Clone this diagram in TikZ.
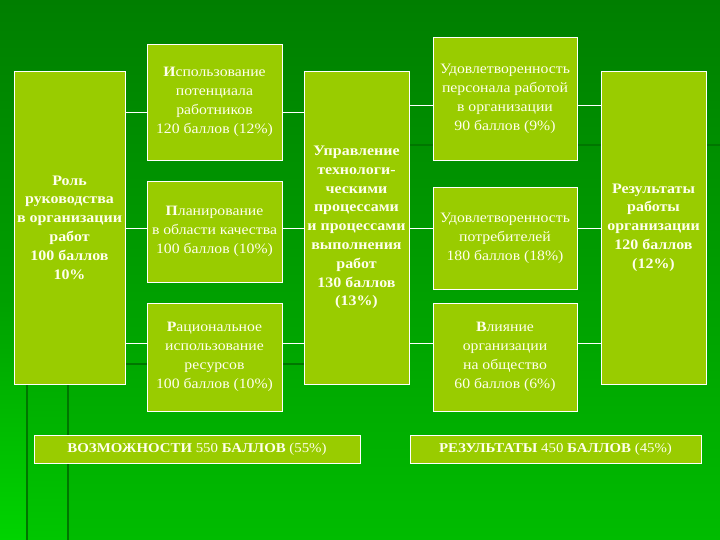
\documentclass[tikz,border=0pt]{standalone}
\usepackage{fontspec}
\setmainfont{Liberation Serif}[FakeStretch=1.1]

\definecolor{slidetop}{RGB}{0,126,0}
\definecolor{slidemid}{RGB}{0,160,0}
\definecolor{slidebot}{RGB}{0,188,0}
\definecolor{slidelight}{RGB}{0,212,0}
\definecolor{slidepale}{RGB}{0,198,0}
\definecolor{decoline}{RGB}{0,118,0}
\definecolor{boxfill}{RGB}{153,204,0}
\definecolor{boxtext}{RGB}{255,255,236}

\tikzset{
  block/.style={draw=white, line width=0.9pt, fill=boxfill, text=boxtext,
    align=center, inner sep=1pt, font=\fontsize{14.3}{19}\selectfont},
  bigblock/.style={block, font=\bfseries\fontsize{14.5}{18.8}\selectfont},
  total/.style={block, font=\fontsize{13.5}{15}\selectfont},
  link/.style={white, line width=0.9pt},
  deco/.style={decoline, line width=2.5pt}
}

\begin{document}
\begin{tikzpicture}[x=1pt, y=-1pt]
      \useasboundingbox (0,0) rectangle (720,540);
      \shade[top color=slidetop, bottom color=slidebot] (0,0) rectangle (720,540);
      \shade[top color=slidemid, bottom color=slidelight] (0,300) rectangle (27,540);
      \shade[top color=slidemid, bottom color=slidepale] (27,300) rectangle (68,540);

      % template lines
      \draw[deco] (14,364) -- (304,364);
      \draw[deco] (304,145) -- (720,145);
      \draw[deco] (27,364) -- (27,540);
      \draw[deco] (68,364) -- (68,540);

      \node[bigblock, minimum width=111pt, minimum height=313pt] (lead) at (69.5,227.5)
        {Роль\\ руководства\\ в организации\\ работ\\ 100 баллов\\ 10\%};

      \node[block, minimum width=135pt, minimum height=116pt] (staff) at (214.5,102)
        {\textbf{И}спользование\\ потенциала\\ работников\\ 120 баллов (12\%)};
      \node[block, minimum width=135pt, minimum height=101pt] (plan) at (214.5,231.5)
        {\textbf{П}ланирование\\ в области качества\\ 100 баллов (10\%)};
      \node[block, minimum width=135pt, minimum height=108pt] (res) at (214.5,357)
        {\textbf{Р}ациональное\\ использование\\ ресурсов\\ 100 баллов (10\%)};

      \node[bigblock, minimum width=105pt, minimum height=313pt] (proc) at (356.5,227.5)
        {Управление\\ технологи-\\ ческими\\ процессами\\ и процессами\\ выполнения\\ работ\\ 130 баллов\\ (13\%)};

      \node[block, minimum width=144pt, minimum height=123pt] (pers) at (505,98.5)
        {Удовлетворенность\\ персонала работой\\ в организации\\ 90 баллов (9\%)};
      \node[block, minimum width=144pt, minimum height=102pt] (cust) at (505,238)
        {Удовлетворенность\\ потребителей\\ 180 баллов (18\%)};
      \node[block, minimum width=144pt, minimum height=108pt] (soc) at (505,357)
        {\textbf{В}лияние\\ организации\\ на общество\\ 60 баллов (6\%)};

      \node[bigblock, minimum width=105pt, minimum height=313pt] (result) at (653.5,227.5)
        {Результаты\\ работы\\ организации\\ 120 баллов\\ (12\%)};

      \node[total, minimum width=326pt, minimum height=28pt] (enab) at (197,449)
        {\textbf{ВОЗМОЖНОСТИ} 550 \textbf{БАЛЛОВ} (55\%)};
      \node[total, minimum width=291pt, minimum height=28pt] (outc) at (555.5,449)
        {\textbf{РЕЗУЛЬТАТЫ} 450 \textbf{БАЛЛОВ} (45\%)};

      \foreach \a/\b/\y in {lead/staff/112, staff/proc/112, lead/plan/228, plan/proc/228,
          lead/res/343, res/proc/343, proc/pers/105, pers/result/105,
          proc/cust/228, cust/result/228, proc/soc/343, soc/result/343}
        \draw[link] (\a.east |- 0,\y) -- (\b.west |- 0,\y);
    \end{tikzpicture}
\end{document}
